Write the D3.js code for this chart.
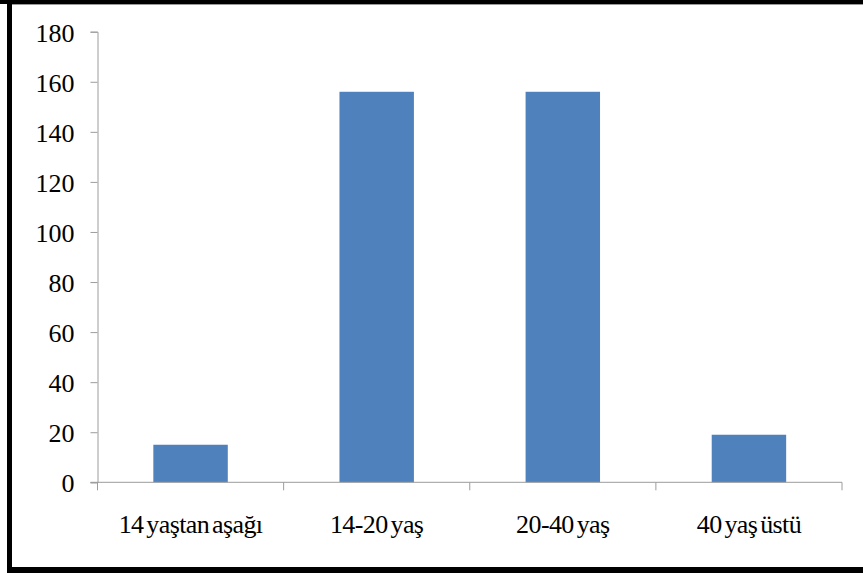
<!DOCTYPE html>
<html>
<head>
<meta charset="utf-8">
<script src="https://cdn.jsdelivr.net/npm/d3@7"></script>
<style>
html,body{margin:0;padding:0;background:#fff;}
svg{display:block;}
</style>
</head>
<body>
<svg id="chart" width="863" height="573"></svg>
<script>
const categories = ["14 yaştan aşağı", "14-20 yaş", "20-40 yaş", "40 yaş üstü"];
const values = [15, 156, 156, 19];
const yTicks = [0, 20, 40, 60, 80, 100, 120, 140, 160, 180];

const svg = d3.select("#chart");
const W = 863, H = 573;

// outer frame
svg.append("rect").attr("x", 0).attr("y", 0).attr("width", W).attr("height", H).attr("fill", "#fff");
svg.append("rect").attr("x", 0).attr("y", 0).attr("width", W).attr("height", 4).attr("fill", "#000");
svg.append("line").attr("x1", 12).attr("x2", W).attr("y1", 4.5).attr("y2", 4.5).attr("stroke", "#9a9a9a").attr("stroke-width", 1);
svg.append("rect").attr("x", 7).attr("y", 0).attr("width", 5).attr("height", H).attr("fill", "#000");
svg.append("rect").attr("x", 7).attr("y", 567).attr("width", W - 7).attr("height", 6).attr("fill", "#000");

const pLeft = 97.5, pRight = 842, pTop = 31.7, pBottom = 482.3;

const x = d3.scaleBand().domain(categories).range([pLeft, pRight]).paddingInner(0.6).paddingOuter(0.3);
const y = d3.scaleLinear().domain([0, 180]).range([pBottom, pTop]);

// bars
svg.append("g").selectAll("rect").data(values).join("rect")
  .attr("x", (d, i) => x(categories[i]))
  .attr("y", d => y(d))
  .attr("width", x.bandwidth())
  .attr("height", d => y(0) - y(d))
  .attr("fill", "#4F81BD");

const axisColor = "#9c9c9c";
const font = "Liberation Serif";

// y axis
const yAxis = svg.append("g").attr("transform", `translate(${pLeft},0)`)
  .call(d3.axisLeft(y).tickValues(yTicks).tickSize(7).tickPadding(16).tickFormat(d3.format("d")));
yAxis.attr("font-family", null).attr("font-size", null);
yAxis.select(".domain").attr("stroke", axisColor);
yAxis.selectAll(".tick line").attr("stroke", axisColor);
yAxis.selectAll(".tick text").attr("fill", "#000").attr("dy", "0.36em")
  .attr("font-family", font).attr("font-size", 26);

// x axis
const xAxis = svg.append("g").attr("transform", `translate(0,${pBottom})`);
xAxis.append("line").attr("x1", pLeft - 7).attr("x2", pRight).attr("y1", 0).attr("y2", 0).attr("stroke", axisColor);
const boundaries = categories.map(c => x(c) - x.step() * x.paddingInner() / 2).concat([pRight]);
xAxis.selectAll("line.tk").data(boundaries).join("line").attr("class", "tk")
  .attr("x1", d => d).attr("x2", d => d).attr("y1", 0).attr("y2", 8).attr("stroke", axisColor);
xAxis.selectAll("text").data(categories).join("text")
  .attr("x", d => x(d) + x.bandwidth() / 2)
  .attr("y", 51)
  .attr("text-anchor", "middle")
  .attr("font-family", font).attr("font-size", 26)
  .attr("letter-spacing", "-0.6")
  .attr("word-spacing", "-3")
  .attr("fill", "#000")
  .text(d => d);
</script>
</body>
</html>
